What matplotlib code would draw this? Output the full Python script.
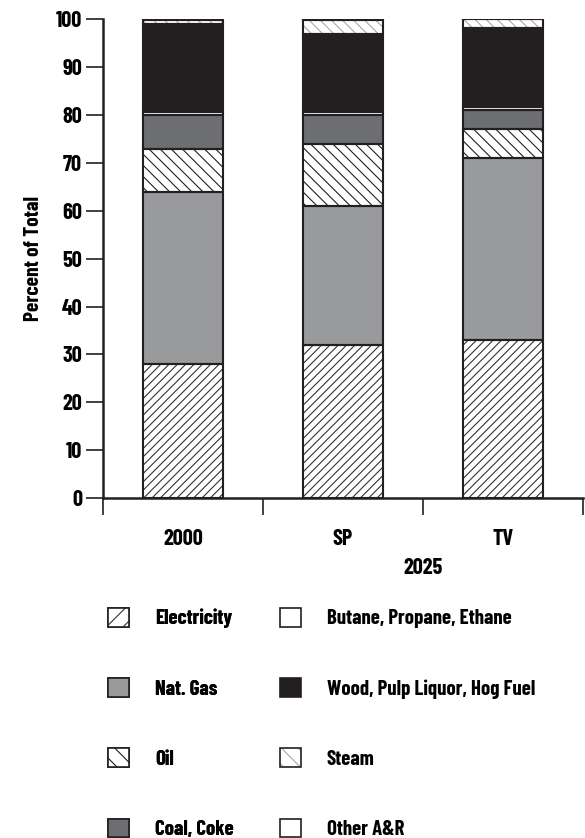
import numpy as np
import matplotlib
matplotlib.use("Agg")
import matplotlib.pyplot as plt
from matplotlib.patches import Patch

plt.rcParams['font.family'] = ['Barlow Condensed', 'DejaVu Sans']
plt.rcParams['font.weight'] = 'bold'
plt.rcParams['axes.labelweight'] = 'bold'
plt.rcParams['hatch.linewidth'] = 0.8

groups = ['2000', 'SP', 'TV']
sub_label = '2025'

series = ['Electricity', 'Nat. Gas', 'Oil', 'Coal, Coke',
          'Butane, Propane, Ethane', 'Wood, Pulp Liquor, Hog Fuel',
          'Steam', 'Other A&R']
electricity = [28, 32, 33]
nat_gas = [36, 29, 38]
oil = [9, 13, 6]
coal = [7, 6, 4]
butane = [0.7, 0.7, 0.7]
wood = [18.4, 16.3, 16.5]
steam = [0.7, 2.9, 1.9]
other = [0.1, 0.1, 0.1]
values = [electricity, nat_gas, oil, coal, butane, wood, steam, other]

# face, hatch, hatch colour
styles = [
    ('white', '////', '#333333'),
    ('#999a9c', None, None),
    ('white', '\\\\\\', '#231f20'),
    ('#6d6e71', None, None),
    ('white', None, None),
    ('#231f20', None, None),
    ('white', '\\\\\\', '#a8a8a8'),
    ('white', None, None),
]

fig = plt.figure(figsize=(5.85, 8.38), dpi=100)
ax = fig.add_axes([0.176, 0.4057, 0.8206, 0.5713])

x = np.arange(len(groups)) + 0.5
bottom = np.zeros(len(groups))
handles = []
for name, vals, (fc, hatch, hc) in zip(series, values, styles):
    vals = np.array(vals)
    if hatch:
        ax.bar(x, vals, 0.5, bottom=bottom, color=fc, edgecolor=hc,
               hatch=hatch, linewidth=0, zorder=2)
    else:
        ax.bar(x, vals, 0.5, bottom=bottom, color=fc, linewidth=0, zorder=2)
    ax.bar(x, vals, 0.5, bottom=bottom, fill=False, edgecolor='#231f20',
           linewidth=1.5, zorder=3)
    bottom += vals
    # legend key: hatched fill in its own colour, black frame on top
    inner = Patch(facecolor=fc, edgecolor=hc if hatch else fc,
                  hatch=hatch[:2] if hatch else None, linewidth=0)
    frame = Patch(fill=False, edgecolor='#231f20', linewidth=1.2)
    handles.append((inner, frame))

ax.set_xlim(0, 3)
ax.set_ylim(0, 100)
ax.set_yticks(np.arange(0, 101, 10))
ax.set_xticks([0, 1, 2, 3])
ax.set_xticklabels([])
ax.set_xticks(x, minor=True)
ax.set_xticklabels(groups, minor=True, fontsize=16, fontweight='bold')
for t in ax.get_yticklabels():
    t.set_fontweight('bold')
ax.tick_params(axis='x', which='minor', length=0, pad=22)
ax.tick_params(axis='x', which='major', length=12, width=1.2, color='#231f20')
ax.tick_params(axis='y', length=12, width=1.2, color='#231f20', labelsize=16, pad=3)
for s in ['top', 'right']:
    ax.spines[s].set_visible(False)
for s in ['left', 'bottom']:
    ax.spines[s].set_linewidth(1.8)
    ax.spines[s].set_color('#231f20')
ax.set_ylabel('Percent of Total', fontsize=15.5, fontweight='bold', labelpad=9)
ax.text(2.0, -0.146, sub_label, transform=ax.get_xaxis_transform(),
        ha='center', va='center', fontsize=16, fontweight='bold')

leg_kw = dict(loc='upper left', frameon=False,
              prop={'size': 15, 'weight': 'bold'},
              handlelength=1.0, handleheight=1.0, handletextpad=1.25,
              labelspacing=2.39, borderaxespad=0, borderpad=0)
leg1 = fig.legend(handles=handles[:4], labels=series[:4],
                  bbox_to_anchor=(0.1846, 0.2745), **leg_kw)
fig.legend(handles=handles[4:], labels=series[4:],
           bbox_to_anchor=(0.4786, 0.2745), **leg_kw)
fig.add_artist(leg1)

fig.savefig('out.png', dpi=100)
